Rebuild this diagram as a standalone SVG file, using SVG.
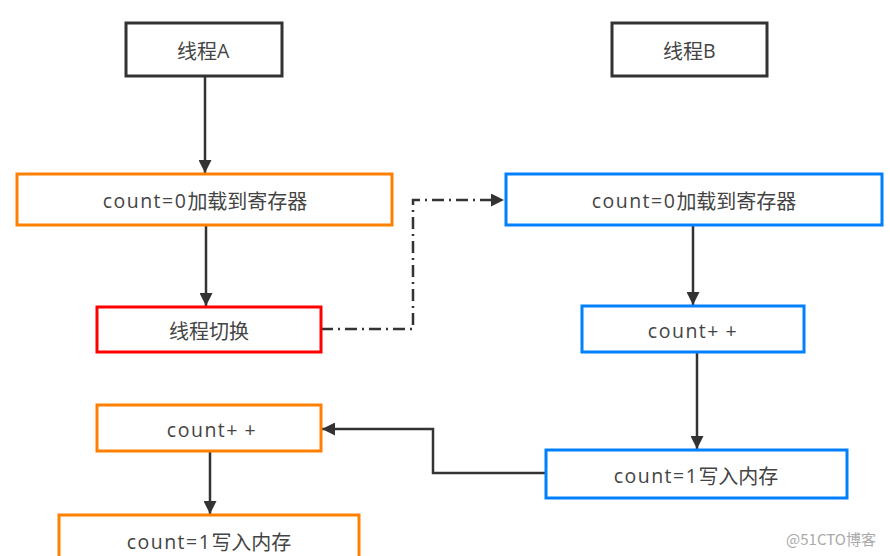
<svg xmlns="http://www.w3.org/2000/svg" width="890" height="556" viewBox="0 0 890 556">
<defs>
<style>
.box{fill:#fff;stroke-width:3}
.k{stroke:#333}
.o{stroke:#ff8000}
.b{stroke:#0080ff}
.r{stroke:#ff0000}
.t{font-family:"Noto Sans CJK SC","Open Sans",sans-serif;font-size:20px;fill:#444;text-anchor:middle;dominant-baseline:central}
.l{font-family:"Open Sans","Noto Sans CJK SC",sans-serif;font-size:19.5px;letter-spacing:1.5px}
.p{letter-spacing:7px}
.c{fill:none;stroke:#333;stroke-width:2.5}
</style>
<marker id="ah" viewBox="0 0 10 10" refX="10" refY="5" markerWidth="5.2" markerHeight="5.2" orient="auto" markerUnits="strokeWidth">
<path d="M0,0 L10,5 L0,10 z" fill="#333"/>
</marker>
</defs>
<rect width="890" height="556" fill="#fff"/>
<g id="connectors">
<path class="c" d="M205,77 V173" marker-end="url(#ah)"/>
<path class="c" d="M206,225 V306" marker-end="url(#ah)"/>
<path class="c" d="M321,329 H413 V200 H504" stroke-dasharray="12,5,2,5" marker-end="url(#ah)"/>
<path class="c" d="M693,225 V305" marker-end="url(#ah)"/>
<path class="c" d="M697,352 V449" marker-end="url(#ah)"/>
<path class="c" d="M545,473 H433 V429 H322" marker-end="url(#ah)"/>
<path class="c" d="M210,451 V514" marker-end="url(#ah)"/>
</g>
<g id="threadA"><rect class="box k" x="126" y="23" width="156" height="53"/><text class="t" x="204" y="50">线程<tspan class="l">A</tspan></text></g>
<g id="threadB"><rect class="box k" x="612" y="23" width="155" height="53"/><text class="t" x="690" y="50">线程<tspan class="l">B</tspan></text></g>
<g id="a1"><rect class="box o" x="17" y="174" width="375" height="51"/><text class="t" x="205" y="200"><tspan class="l">count=0</tspan>加载到寄存器</text></g>
<g id="b1"><rect class="box b" x="506" y="174" width="376" height="51"/><text class="t" x="694" y="200"><tspan class="l">count=0</tspan>加载到寄存器</text></g>
<g id="switch"><rect class="box r" x="97" y="307" width="224" height="45"/><text class="t" x="209" y="330">线程切换</text></g>
<g id="b2"><rect class="box b" x="582" y="306" width="222" height="46"/><text class="t" x="693" y="330"><tspan class="l">count<tspan class="p">+</tspan>+</tspan></text></g>
<g id="a2"><rect class="box o" x="97" y="405" width="224" height="46"/><text class="t" x="212" y="429"><tspan class="l">count<tspan class="p">+</tspan>+</tspan></text></g>
<g id="b3"><rect class="box b" x="546" y="450" width="301" height="48"/><text class="t" x="696" y="475"><tspan class="l">count=1</tspan>写入内存</text></g>
<g id="a3"><rect class="box o" x="59" y="515" width="300" height="50"/><text class="t" x="209" y="541"><tspan class="l">count=1</tspan>写入内存</text></g>
<text x="831" y="538" font-family="'Noto Sans CJK SC','Liberation Sans',sans-serif" font-size="15" fill="#aaa" text-anchor="middle" dominant-baseline="central">@51CTO博客</text>
</svg>
